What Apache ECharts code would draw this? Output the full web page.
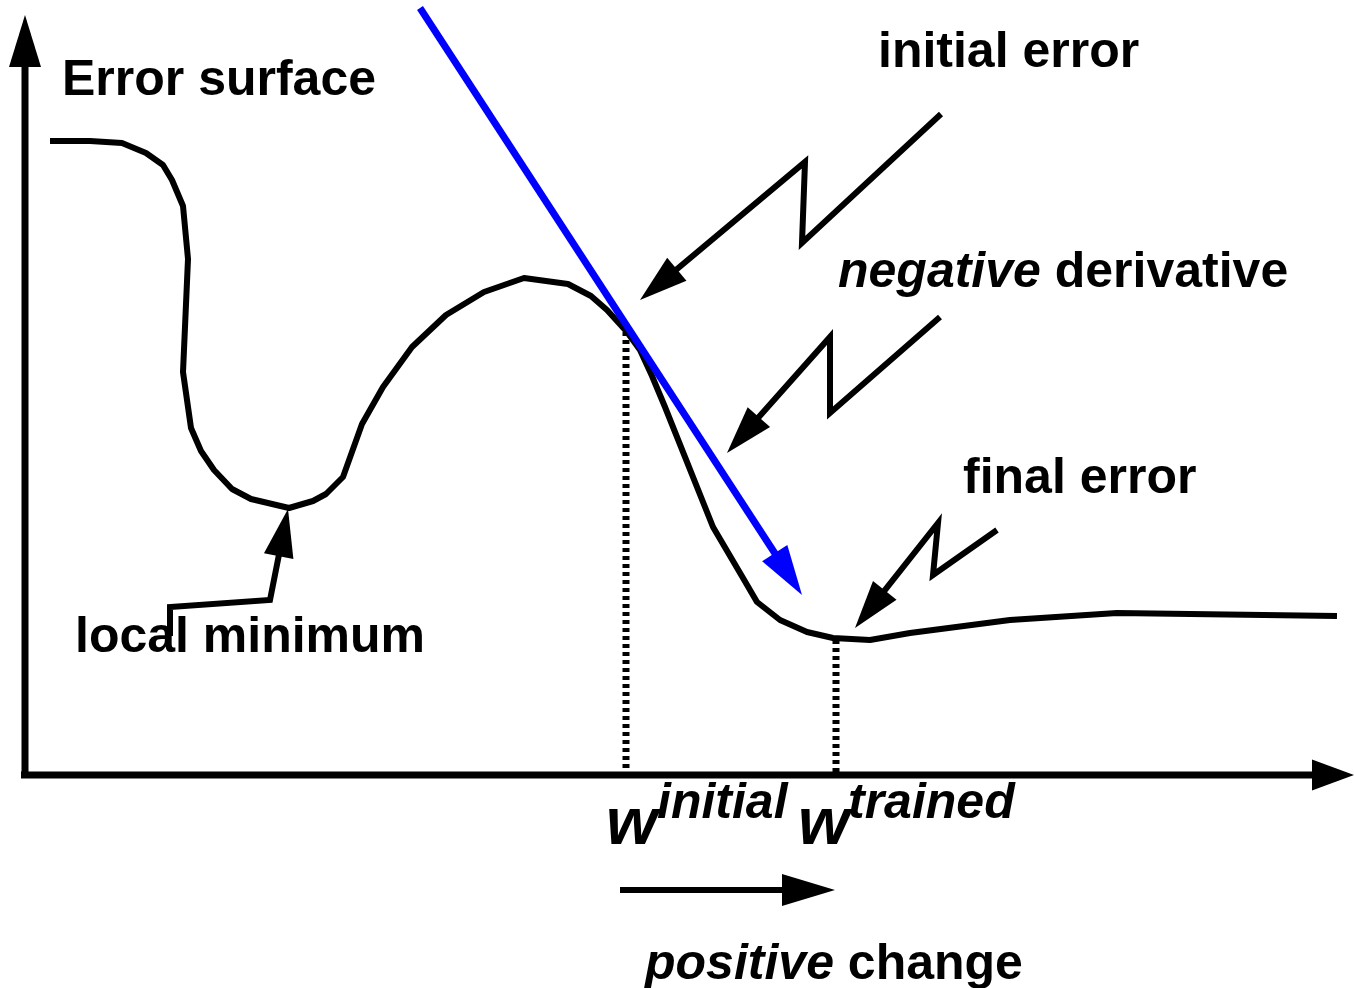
<!DOCTYPE html>
<html>
<head>
<meta charset="utf-8">
<title>Error surface</title>
<script src="https://cdn.jsdelivr.net/npm/echarts@6/dist/echarts.min.js"></script>
<style>
    html, body { margin: 0; padding: 0; background: #fff; }
    #chart { width: 1354px; height: 988px; }
</style>
</head>
<body>
<div id="chart"></div>
<script>
    // error curve (x to the right, y downward, figure units)
    var errorCurve = [
        [50,141],[90,141],[122,143],[146,153],[163,165],[172,180],[183,206],[188,259],
        [183,372],[191,428],[201,451],[214,470],[232,489],[251,499],[289,508],[313,501],
        [326,494],[343,477],[362,424],[383,387],[412,347],[446,315],[484,292],[524,278],
        [568,284],[591,296],[607,310],[627,332],[640,350],[652,376],[665,407],[713,527],
        [743,578],[757,602],[780,620],[807,632],[833,638],[870,640],[910,633],[1010,620],
        [1117,613],[1337,616]
    ];

    // weights and the error at each of them
    var axisLevel = 775;
    var wInitial = 626, errInitial = 332;
    var wTrained = 836, errTrained = 640;

    // arrows (last point is the tip)
    var yAxisArrow = [[25,778],[25,15]];
    var xAxisArrow = [[21,775],[1354,775]];
    var gradientArrow = [[420,8],[802,595]];
    var initialErrorArrow = [[941,114],[802,243],[805,162],[640,300]];
    var derivativeArrow = [[940,317],[830,413],[830,337],[727,453]];
    var finalErrorArrow = [[997,530],[933,575],[938,523],[855,628]];
    var localMinArrow = [[170,636],[170,607],[270,600],[288,509]];
    var changeArrow = [[620,890],[835,890]];

    var arrows = [
        {pts: yAxisArrow, color: '#000', width: 7, head: [52, 32]},
        {pts: xAxisArrow, color: '#000', width: 7, head: [42, 31]},
        {pts: initialErrorArrow, color: '#000', width: 6, head: [48, 30]},
        {pts: derivativeArrow, color: '#000', width: 6, head: [48, 30]},
        {pts: finalErrorArrow, color: '#000', width: 6, head: [48, 30]},
        {pts: localMinArrow, color: '#000', width: 6, head: [48, 30]},
        {pts: changeArrow, color: '#000', width: 6, head: [53, 32]},
        {pts: gradientArrow, color: '#0000ff', width: 7, head: [50, 30]}
    ];

    var FONT = '"Liberation Sans", Arial, Helvetica, sans-serif';

    function renderArrow(params, api) {
        var a = arrows[params.dataIndex];
        var p = a.pts.map(function (d) { return api.coord(d); });
        var tip = p[p.length - 1], prev = p[p.length - 2];
        var dx = tip[0] - prev[0], dy = tip[1] - prev[1];
        var len = Math.sqrt(dx * dx + dy * dy);
        var ux = dx / len, uy = dy / len;
        var bx = tip[0] - ux * a.head[0], by = tip[1] - uy * a.head[0];
        var hw = a.head[1] / 2;
        var line = p.slice(0, p.length - 1);
        line.push([bx + ux * 2, by + uy * 2]);
        return {
            type: 'group',
            children: [{
                type: 'polyline',
                shape: {points: line},
                style: {stroke: a.color, lineWidth: a.width, fill: null, lineJoin: 'miter', lineCap: 'butt'}
            }, {
                type: 'polygon',
                shape: {points: [tip, [bx - uy * hw, by + ux * hw], [bx + uy * hw, by - ux * hw]]},
                style: {fill: a.color}
            }]
        };
    }

    function label(x, y, text, size, rich) {
        return {
            type: 'text',
            x: x,
            y: y,
            style: {
                text: text,
                fill: '#000',
                font: 'bold ' + size + 'px ' + FONT,
                align: 'left',
                verticalAlign: 'middle',
                rich: rich || {}
            }
        };
    }

    var italic = {
        i: {fontStyle: 'italic', fontWeight: 'bold', fontSize: 50, fontFamily: FONT, fill: '#000'}
    };

    function italicLabel(x, y, text, size) {
        var l = label(x, y, text, size);
        l.style.font = 'italic bold ' + size + 'px ' + FONT;
        return l;
    }

    var chartDom = document.getElementById('chart');
    var myChart = echarts.init(chartDom);

    var option = {
        animation: false,
        backgroundColor: '#fff',
        grid: {left: 0, right: 0, top: 0, bottom: 0},
        xAxis: {type: 'value', min: 0, max: 1354, show: false},
        yAxis: {type: 'value', min: 0, max: 988, inverse: true, show: false},
        series: [
            {
                name: 'error',
                type: 'line',
                data: errorCurve,
                showSymbol: false,
                lineStyle: {color: '#000', width: 6, join: 'round'},
                z: 2
            },
            {
                name: 'w initial',
                type: 'line',
                data: [[wInitial, errInitial], [wInitial, axisLevel]],
                showSymbol: false,
                lineStyle: {color: '#000', width: 7, type: [4, 4]},
                z: 3
            },
            {
                name: 'w trained',
                type: 'line',
                data: [[wTrained, errTrained], [wTrained, axisLevel]],
                showSymbol: false,
                lineStyle: {color: '#000', width: 7, type: [4, 4]},
                z: 3
            },
            {
                name: 'arrows',
                type: 'custom',
                clip: false,
                data: arrows.map(function (a, i) { return i; }),
                renderItem: renderArrow,
                z: 4
            }
        ],
        graphic: [
            label(62, 81, 'Error surface', 50),
            label(878, 53, 'initial error', 50),
            label(838, 273, '{i|negative} derivative', 50, italic),
            label(963, 479, 'final error', 50),
            label(75, 638, 'local minimum', 50),
            label(645, 965, '{i|positive} change', 50, italic),
            italicLabel(606, 826, 'w', 66),
            italicLabel(657, 804, 'initial', 50),
            italicLabel(798, 826, 'w', 66),
            italicLabel(848, 804, 'trained', 50)
        ]
    };

    myChart.setOption(option);
    window.onresize = function () { myChart.resize(); };
</script>
</body>
</html>
